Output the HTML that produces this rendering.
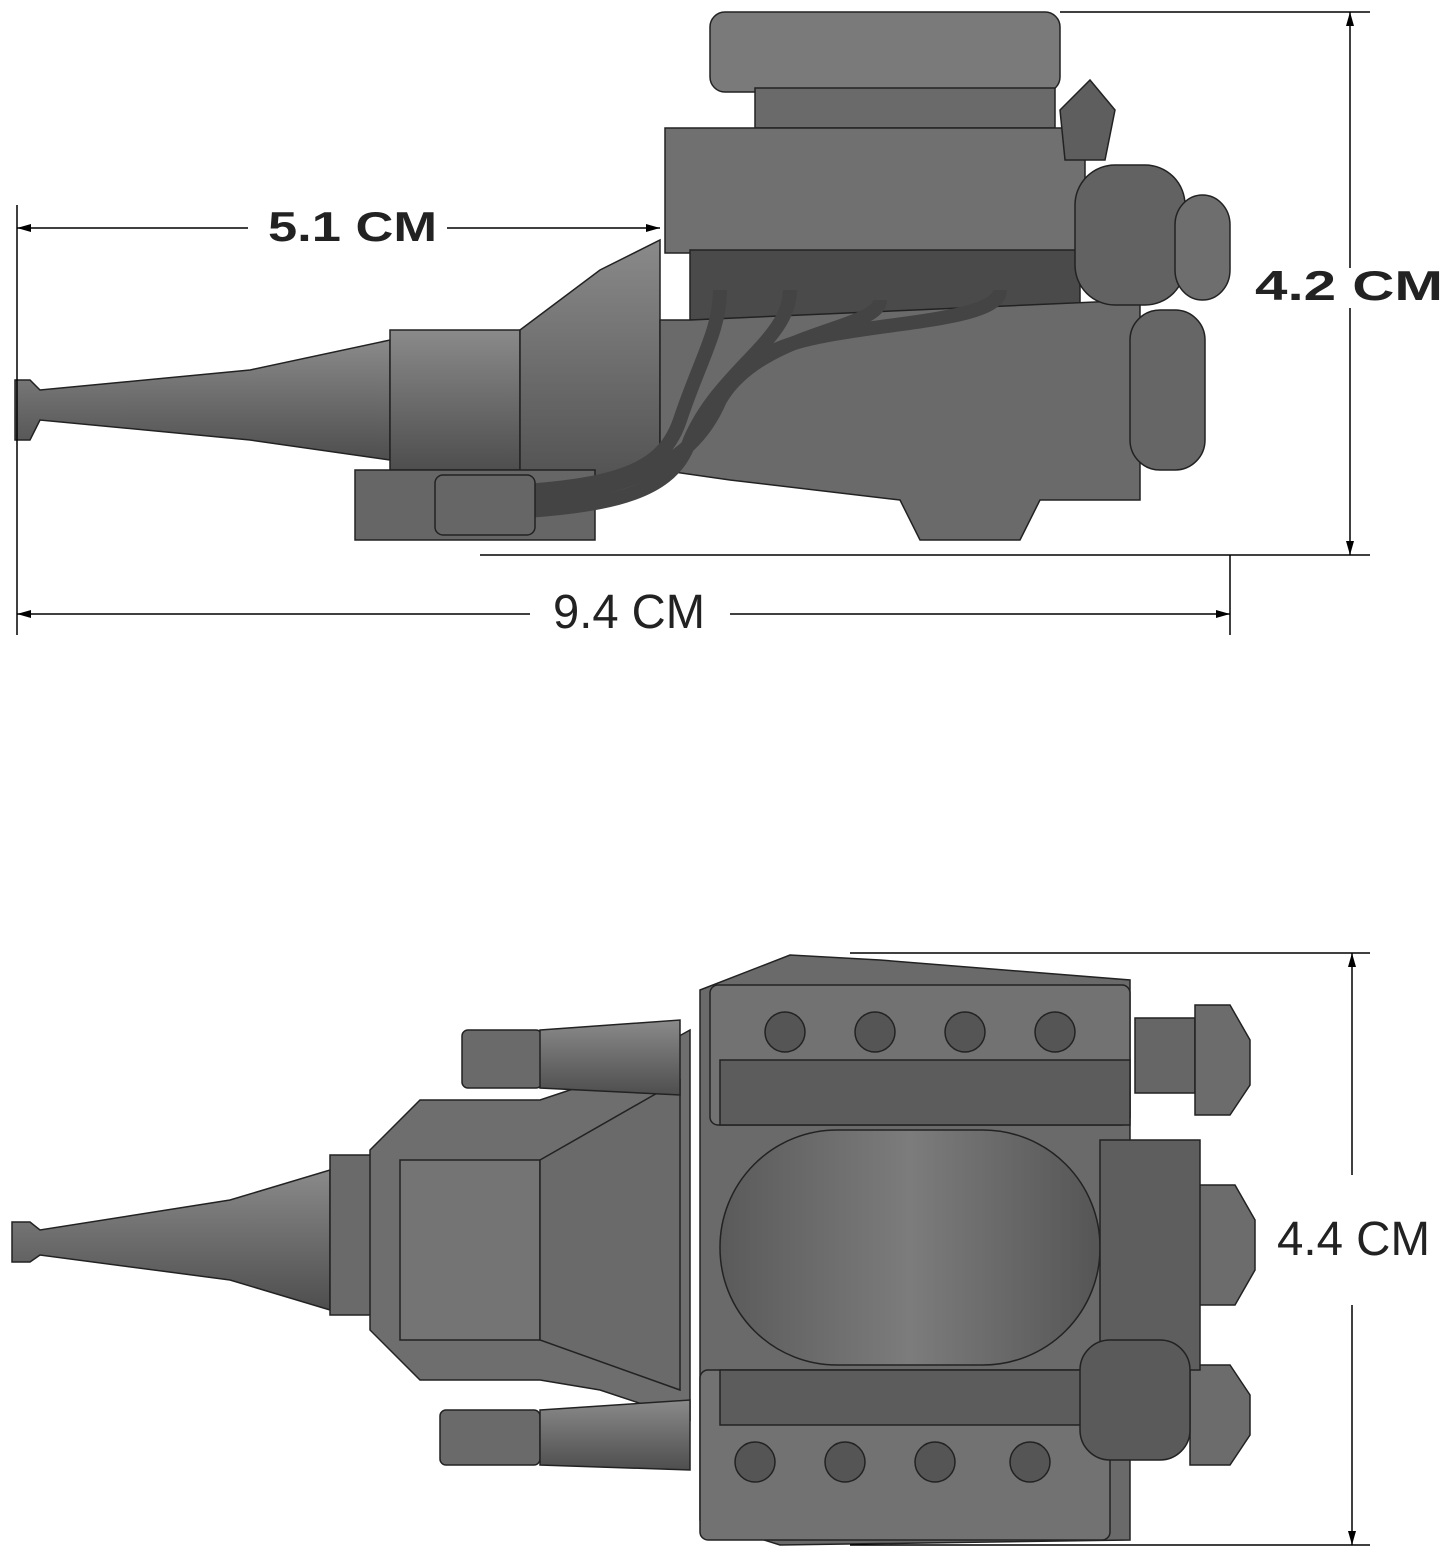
<!DOCTYPE html>
<html><head><meta charset="utf-8"><style>
html,body{margin:0;padding:0;background:#fff;}
svg{display:block;}
</style></head><body>
<svg width="1445" height="1566" viewBox="0 0 1445 1566" xmlns="http://www.w3.org/2000/svg">
<defs>
<linearGradient id="g1" x1="0" y1="0" x2="0" y2="1"><stop offset="0" stop-color="#8a8a8a"/><stop offset="0.5" stop-color="#6c6c6c"/><stop offset="1" stop-color="#4e4e4e"/></linearGradient>
<linearGradient id="g2" x1="0" y1="0" x2="1" y2="0"><stop offset="0" stop-color="#5a5a5a"/><stop offset="0.5" stop-color="#7c7c7c"/><stop offset="1" stop-color="#555"/></linearGradient>
</defs>
<g stroke="#222" stroke-width="1.5" fill="url(#g1)">
<path d="M15 380 L30 380 L40 390 L250 370 L390 340 L390 460 L250 440 L40 420 L30 440 L15 440 Z"/>
<rect x="390" y="330" width="130" height="140"/>
<path d="M520 330 L600 270 L660 240 L660 480 L600 500 L520 480 Z"/>
<rect x="355" y="470" width="240" height="70" fill="#666"/>
<rect x="710" y="12" width="350" height="80" rx="15" fill="#7a7a7a"/>
<rect x="755" y="88" width="300" height="40" fill="#6a6a6a"/>
<rect x="665" y="128" width="420" height="125" fill="#707070"/>
<rect x="690" y="250" width="390" height="70" fill="#4a4a4a"/>
<path d="M690 320 L1140 300 L1140 500 L1040 500 L1020 540 L920 540 L900 500 L730 480 L660 470 L660 320 Z" fill="#6a6a6a"/>
<rect x="1075" y="165" width="110" height="140" rx="40" fill="#626262"/>
<rect x="1175" y="195" width="55" height="105" rx="30" fill="#6e6e6e"/>
<rect x="1130" y="310" width="75" height="160" rx="30" fill="#666"/>
<path d="M1060 110 l30 -30 l25 30 l-10 50 l-40 0 z" fill="#5e5e5e"/>
<g fill="none" stroke="#444" stroke-width="14">
<path d="M720 290 C720 330 700 360 680 420 C660 480 600 490 440 495"/>
<path d="M790 290 C790 340 720 370 690 440 C670 500 600 510 440 515"/>
<path d="M880 300 C880 330 760 330 720 400 C690 470 620 500 440 505"/>
<path d="M1000 290 C1000 330 800 320 760 360"/>
</g>
<rect x="435" y="475" width="100" height="60" rx="8" fill="#666"/>

<path d="M12 1222 L30 1222 L40 1230 L230 1200 L330 1170 L330 1310 L230 1280 L40 1255 L30 1262 L12 1262 Z"/>
<rect x="330" y="1155" width="70" height="160" fill="#6a6a6a"/>
<path d="M370 1150 L420 1100 L540 1100 L600 1080 L690 1030 L690 1420 L600 1390 L540 1380 L420 1380 L370 1330 Z" fill="#6e6e6e"/>
<rect x="400" y="1160" width="140" height="180" fill="#747474"/>
<path d="M540 1160 L680 1080 L680 1390 L540 1340 Z" fill="#6a6a6a"/>
<rect x="462" y="1030" width="80" height="58" rx="6" fill="#6a6a6a"/>
<path d="M540 1030 L680 1020 L680 1095 L540 1088 Z"/>
<rect x="440" y="1410" width="100" height="55" rx="6" fill="#6a6a6a"/>
<path d="M540 1410 L690 1400 L690 1470 L540 1465 Z"/>
<path d="M700 990 L790 955 L880 960 L1130 980 L1130 1540 L780 1545 L700 1520 Z" fill="#6a6a6a"/>
<rect x="710" y="985" width="420" height="140" rx="8" fill="#727272"/>
<rect x="720" y="1060" width="410" height="65" fill="#5c5c5c"/>
<rect x="700" y="1370" width="410" height="170" rx="8" fill="#727272"/>
<rect x="720" y="1370" width="390" height="55" fill="#5c5c5c"/>
<rect x="720" y="1130" width="380" height="235" rx="117" fill="url(#g2)"/>
<g fill="#555">
<circle cx="785" cy="1032" r="20"/><circle cx="875" cy="1032" r="20"/><circle cx="965" cy="1032" r="20"/><circle cx="1055" cy="1032" r="20"/>
<circle cx="755" cy="1462" r="20"/><circle cx="845" cy="1462" r="20"/><circle cx="935" cy="1462" r="20"/><circle cx="1030" cy="1462" r="20"/>
</g>
<rect x="1135" y="1018" width="60" height="75" fill="#666"/>
<path d="M1195 1005 L1230 1005 L1250 1040 L1250 1085 L1230 1115 L1195 1115 Z" fill="#6c6c6c"/>
<path d="M1190 1185 L1235 1185 L1255 1220 L1255 1270 L1235 1305 L1190 1305 Z" fill="#6c6c6c"/>
<path d="M1190 1365 L1230 1365 L1250 1395 L1250 1435 L1230 1465 L1190 1465 Z" fill="#6c6c6c"/>
<rect x="1100" y="1140" width="100" height="230" fill="#5e5e5e"/>
<rect x="1080" y="1340" width="110" height="120" rx="30" fill="#5a5a5a"/>
</g>

<g stroke="#000" stroke-width="1.5" fill="none">
<line x1="1060" y1="12" x2="1370" y2="12"/>
<line x1="1350" y1="12" x2="1350" y2="268"/>
<line x1="1350" y1="308" x2="1350" y2="555"/>
<line x1="480" y1="555" x2="1370" y2="555"/>
<line x1="17" y1="205" x2="17" y2="635"/>
<line x1="17" y1="228" x2="248" y2="228"/>
<line x1="447" y1="228" x2="660" y2="228"/>
<line x1="17" y1="614" x2="530" y2="614"/>
<line x1="730" y1="614" x2="1230" y2="614"/>
<line x1="1230" y1="555" x2="1230" y2="635"/>
<line x1="850" y1="953" x2="1370" y2="953"/>
<line x1="1352" y1="953" x2="1352" y2="1175"/>
<line x1="1352" y1="1305" x2="1352" y2="1545"/>
<line x1="850" y1="1545" x2="1370" y2="1545"/>
</g>
<g fill="#000">
<path d="M1350 12 l-4 14 l8 0z"/><path d="M1350 555 l-4 -14 l8 0z"/>
<path d="M17 228 l14 -4 l0 8z"/><path d="M660 228 l-14 -4 l0 8z"/>
<path d="M17 614 l14 -4 l0 8z"/><path d="M1230 614 l-14 -4 l0 8z"/>
<path d="M1352 953 l-4 14 l8 0z"/><path d="M1352 1545 l-4 -14 l8 0z"/>
</g>
<g font-family="Liberation Sans, sans-serif">
<text x="268" y="241" font-size="42" font-weight="bold" fill="#222" textLength="169" lengthAdjust="spacingAndGlyphs">5.1 CM</text>
<text x="1255" y="300" font-size="42" font-weight="bold" fill="#222" textLength="188" lengthAdjust="spacingAndGlyphs">4.2 CM</text>
<text x="553" y="628" font-size="48" fill="#222" textLength="152" lengthAdjust="spacingAndGlyphs">9.4 CM</text>
<text x="1277" y="1255" font-size="48" fill="#222" textLength="153" lengthAdjust="spacingAndGlyphs">4.4 CM</text>
</g>
</svg>
</body></html>
